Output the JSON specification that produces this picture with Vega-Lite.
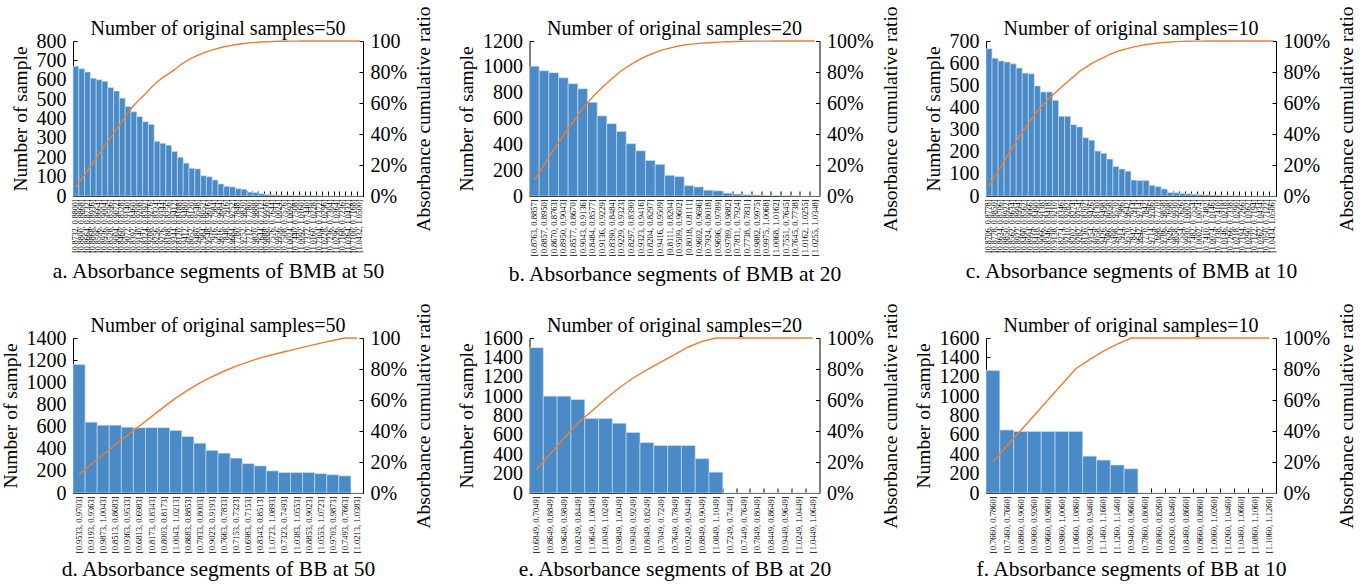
{
"$schema":"https://vega.github.io/schema/vega-lite/v6.json",
"background":"white",
"padding":{"left":0,"top":5,"right":2,"bottom":0},
"config":{
 "view":{"stroke":null},
 "font":"Liberation Serif",
 "axis":{"grid":false,"domainColor":"#000","tickColor":"#000","labelColor":"#000","titleColor":"#000","labelFont":"Liberation Serif","titleFont":"Liberation Serif","titleFontWeight":"normal","labelFontSize":20,"titleFontSize":19.5,"labelOverlap":false},
 "title":{"font":"Liberation Serif","fontSize":20,"fontWeight":"normal","color":"#000","offset":-33,"frame":"group"}
},
"datasets":{
"a":[
{"s":"[0.8732, 0.8800]","n":670,"c":5.5},{"s":"[0.8800, 0.8868]","n":657,"c":10.9},{"s":"[0.8664, 0.8732]","n":640,"c":16.3},{"s":"[0.8868, 0.8936]","n":608,"c":21.7},{"s":"[0.8596, 0.8664]","n":600,"c":27},{"s":"[0.8936, 0.9004]","n":592,"c":32.4},{"s":"[0.8528, 0.8596]","n":560,"c":37.8},{"s":"[0.9004, 0.9072]","n":542,"c":43.1},{"s":"[0.8460, 0.8528]","n":505,"c":48.5},{"s":"[0.9072, 0.9140]","n":462,"c":53.8},
{"s":"[0.8392, 0.8460]","n":435,"c":58.5},{"s":"[0.9140, 0.9208]","n":410,"c":62.5},{"s":"[0.8324, 0.8392]","n":383,"c":66},{"s":"[0.9208, 0.9276]","n":370,"c":70},{"s":"[0.8256, 0.8324]","n":282,"c":73.5},{"s":"[0.9276, 0.9344]","n":272,"c":76.5},{"s":"[0.8188, 0.8256]","n":262,"c":79},{"s":"[0.9344, 0.9412]","n":230,"c":81.5},{"s":"[0.8120, 0.8188]","n":200,"c":84.5},{"s":"[0.9412, 0.9480]","n":170,"c":87},
{"s":"[0.8052, 0.8120]","n":143,"c":89},{"s":"[0.9480, 0.9548]","n":140,"c":90.8},{"s":"[0.7984, 0.8052]","n":105,"c":92.3},{"s":"[0.9548, 0.9616]","n":100,"c":93.6},{"s":"[0.7916, 0.7984]","n":83,"c":94.8},{"s":"[0.9616, 0.9684]","n":62,"c":95.8},{"s":"[0.7848, 0.7916]","n":50,"c":96.6},{"s":"[0.9684, 0.9752]","n":47,"c":97.3},{"s":"[0.7780, 0.7848]","n":38,"c":97.9},{"s":"[0.9752, 0.9820]","n":35,"c":98.4},
{"s":"[0.7712, 0.7780]","n":20,"c":98.8},{"s":"[0.9820, 0.9888]","n":18,"c":99.1},{"s":"[0.7644, 0.7712]","n":12,"c":99.35},{"s":"[0.9888, 0.9956]","n":8,"c":99.55},{"s":"[0.7576, 0.7644]","n":6,"c":99.7},{"s":"[0.9956, 1.0024]","n":5,"c":99.8},{"s":"[0.7508, 0.7576]","n":4,"c":99.87},{"s":"[1.0024, 1.0092]","n":3,"c":99.92},{"s":"[0.7440, 0.7508]","n":2,"c":99.95},{"s":"[1.0092, 1.0160]","n":2,"c":99.97},
{"s":"[0.7372, 0.7440]","n":1,"c":99.98},{"s":"[1.0160, 1.0228]","n":1,"c":99.99},{"s":"[0.7304, 0.7372]","n":1,"c":100},{"s":"[1.0228, 1.0296]","n":0,"c":100},{"s":"[0.7236, 0.7304]","n":0,"c":100},{"s":"[1.0296, 1.0364]","n":0,"c":100},{"s":"[0.7168, 0.7236]","n":0,"c":100},{"s":"[1.0364, 1.0432]","n":0,"c":100},{"s":"[0.7100, 0.7168]","n":0,"c":100},{"s":"[1.0432, 1.0500]","n":0,"c":100}
],
"b":[
{"s":"[0.8763, 0.8857]","n":1005,"c":10.2},{"s":"[0.8857, 0.8950]","n":970,"c":20.1},{"s":"[0.8670, 0.8763]","n":955,"c":29.8},{"s":"[0.8950, 0.9043]","n":915,"c":39.1},{"s":"[0.8577, 0.8670]","n":870,"c":47.9},{"s":"[0.9043, 0.9136]","n":830,"c":56.4},{"s":"[0.8484, 0.8577]","n":725,"c":63.7},{"s":"[0.9136, 0.9229]","n":620,"c":70},{"s":"[0.8390, 0.8484]","n":560,"c":75.7},{"s":"[0.9229, 0.9323]","n":500,"c":80.8},
{"s":"[0.8297, 0.8390]","n":405,"c":84.9},{"s":"[0.9323, 0.9416]","n":350,"c":88.5},{"s":"[0.8204, 0.8297]","n":275,"c":91.3},{"s":"[0.9416, 0.9509]","n":245,"c":93.8},{"s":"[0.8111, 0.8204]","n":160,"c":95.4},{"s":"[0.9509, 0.9602]","n":150,"c":96.9},{"s":"[0.8018, 0.8111]","n":80,"c":97.8},{"s":"[0.9602, 0.9696]","n":70,"c":98.5},{"s":"[0.7924, 0.8018]","n":45,"c":98.9},{"s":"[0.9696, 0.9789]","n":40,"c":99.3},
{"s":"[0.9789, 0.9882]","n":22,"c":99.55},{"s":"[0.7831, 0.7924]","n":15,"c":99.7},{"s":"[0.7738, 0.7831]","n":10,"c":99.8},{"s":"[0.9882, 0.9975]","n":8,"c":99.9},{"s":"[0.9975, 1.0068]","n":5,"c":99.94},{"s":"[1.0068, 1.0162]","n":3,"c":99.97},{"s":"[0.7551, 0.7645]","n":2,"c":99.99},{"s":"[0.7645, 0.7738]","n":1,"c":100},{"s":"[1.0162, 1.0255]","n":0,"c":100},{"s":"[1.0255, 1.0348]","n":0,"c":100}
],
"c":[
{"s":"[0.8706, 0.8778]","n":665,"c":6.5},{"s":"[0.8778, 0.8850]","n":622,"c":12.8},{"s":"[0.8634, 0.8706]","n":610,"c":19.2},{"s":"[0.8850, 0.8922]","n":605,"c":25.5},{"s":"[0.8562, 0.8634]","n":597,"c":31.9},{"s":"[0.8922, 0.8994]","n":578,"c":38.3},{"s":"[0.8490, 0.8562]","n":555,"c":44},{"s":"[0.8994, 0.9066]","n":552,"c":49.5},{"s":"[0.8418, 0.8490]","n":497,"c":54.5},{"s":"[0.9066, 0.9138]","n":470,"c":59},
{"s":"[0.8346, 0.8418]","n":470,"c":63},{"s":"[0.9138, 0.9210]","n":432,"c":66.7},{"s":"[0.8274, 0.8346]","n":360,"c":70.3},{"s":"[0.9210, 0.9282]","n":360,"c":73.7},{"s":"[0.8202, 0.8274]","n":322,"c":77},{"s":"[0.9282, 0.9354]","n":312,"c":80.5},{"s":"[0.8130, 0.8202]","n":263,"c":83},{"s":"[0.9354, 0.9426]","n":252,"c":85.5},{"s":"[0.8058, 0.8130]","n":203,"c":87.6},{"s":"[0.9426, 0.9498]","n":193,"c":89.5},
{"s":"[0.7986, 0.8058]","n":167,"c":91.3},{"s":"[0.9498, 0.9570]","n":133,"c":93},{"s":"[0.7914, 0.7986]","n":122,"c":94.2},{"s":"[0.9570, 0.9642]","n":112,"c":95.2},{"s":"[0.7842, 0.7914]","n":72,"c":96.2},{"s":"[0.9642, 0.9714]","n":70,"c":97},{"s":"[0.7770, 0.7842]","n":70,"c":97.7},{"s":"[0.9714, 0.9786]","n":48,"c":98.2},{"s":"[0.7698, 0.7770]","n":42,"c":98.7},{"s":"[0.9786, 0.9858]","n":32,"c":99.1},
{"s":"[0.7626, 0.7698]","n":16,"c":99.4},{"s":"[0.9858, 0.9930]","n":15,"c":99.6},{"s":"[0.7554, 0.7626]","n":12,"c":99.75},{"s":"[0.9930, 1.0002]","n":10,"c":99.85},{"s":"[0.7482, 0.7554]","n":8,"c":99.9},{"s":"[1.0002, 1.0074]","n":6,"c":99.95},{"s":"[0.7410, 0.7482]","n":5,"c":99.97},{"s":"[1.0074, 1.0146]","n":4,"c":99.98},{"s":"[0.7338, 0.7410]","n":3,"c":99.99},{"s":"[1.0146, 1.0218]","n":2,"c":100},
{"s":"[0.7266, 0.7338]","n":1,"c":100},{"s":"[1.0218, 1.0290]","n":1,"c":100},{"s":"[0.7194, 0.7266]","n":0,"c":100},{"s":"[1.0290, 1.0362]","n":0,"c":100},{"s":"[0.7122, 0.7194]","n":0,"c":100},{"s":"[1.0362, 1.0434]","n":0,"c":100},{"s":"[0.7050, 0.7122]","n":0,"c":100},{"s":"[1.0434, 1.0506]","n":0,"c":100}
],
"d":[
{"s":"[0.9533, 0.9703]","n":1160,"c":11.9},{"s":"[0.9193, 0.9363]","n":640,"c":18.5},{"s":"[0.9873, 1.0043]","n":612,"c":24.8},{"s":"[0.8513, 0.8683]","n":612,"c":31.1},{"s":"[0.9363, 0.9533]","n":595,"c":37.2},{"s":"[0.6813, 0.6983]","n":590,"c":43.2},{"s":"[0.8173, 0.8343]","n":590,"c":49.3},{"s":"[0.8003, 0.8173]","n":590,"c":55.4},{"s":"[1.0043, 1.0213]","n":565,"c":61.2},{"s":"[0.8683, 0.8853]","n":510,"c":66.4},{"s":"[0.7833, 0.8003]","n":450,"c":71},{"s":"[0.9023, 0.9193]","n":385,"c":75},
{"s":"[0.7663, 0.7833]","n":360,"c":78.7},{"s":"[0.7153, 0.7323]","n":315,"c":81.9},{"s":"[0.6983, 0.7153]","n":265,"c":84.6},{"s":"[0.8343, 0.8513]","n":245,"c":87.2},{"s":"[1.0723, 1.0893]","n":200,"c":89.2},{"s":"[0.7323, 0.7493]","n":185,"c":91.1},{"s":"[1.0383, 1.0553]","n":185,"c":93},{"s":"[0.8853, 0.9023]","n":185,"c":94.9},{"s":"[1.0553, 1.0723]","n":175,"c":96.7},{"s":"[0.9703, 0.9873]","n":165,"c":98.4},{"s":"[0.7493, 0.7663]","n":155,"c":100},{"s":"[1.0213, 1.0383]","n":0,"c":100}
],
"e":[
{"s":"[0.6849, 0.7049]","n":1500,"c":15.1},{"s":"[0.8649, 0.8849]","n":1000,"c":25.2},{"s":"[0.9649, 0.9849]","n":1000,"c":35.3},{"s":"[0.8249, 0.8449]","n":965,"c":45.1},{"s":"[1.0649, 1.0849]","n":770,"c":52.8},{"s":"[1.0049, 1.0249]","n":770,"c":60.6},{"s":"[0.9849, 1.0049]","n":720,"c":67.9},{"s":"[0.9049, 0.9249]","n":625,"c":74.2},{"s":"[0.8049, 0.8249]","n":520,"c":79.4},{"s":"[0.7049, 0.7249]","n":490,"c":84.4},{"s":"[0.7649, 0.7849]","n":490,"c":89.3},
{"s":"[0.9249, 0.9449]","n":490,"c":94.2},{"s":"[0.8849, 0.9049]","n":355,"c":97.8},{"s":"[1.0849, 1.1049]","n":215,"c":100},{"s":"[0.7249, 0.7449]","n":0,"c":100},{"s":"[0.7449, 0.7649]","n":0,"c":100},{"s":"[0.7849, 0.8049]","n":0,"c":100},{"s":"[0.8449, 0.8649]","n":0,"c":100},{"s":"[0.9449, 0.9649]","n":0,"c":100},{"s":"[1.0249, 1.0449]","n":0,"c":100},{"s":"[1.0449, 1.0649]","n":0,"c":100}
],
"f":[
{"s":"[0.7660, 0.7860]","n":1265,"c":19.9},{"s":"[0.7460, 0.7660]","n":650,"c":30.2},{"s":"[0.8860, 0.9060]","n":635,"c":40.2},{"s":"[0.9060, 0.9260]","n":635,"c":50.2},{"s":"[0.9660, 0.9860]","n":635,"c":60.2},{"s":"[0.9860, 1.0060]","n":635,"c":70.2},{"s":"[1.0660, 1.0860]","n":635,"c":80.2},{"s":"[0.9260, 0.9460]","n":380,"c":86.1},{"s":"[1.1460, 1.1660]","n":340,"c":91.5},{"s":"[1.1260, 1.1460]","n":290,"c":96.1},{"s":"[0.9460, 0.9660]","n":250,"c":100},
{"s":"[0.7860, 0.8060]","n":0,"c":100},{"s":"[0.8060, 0.8260]","n":0,"c":100},{"s":"[0.8260, 0.8460]","n":0,"c":100},{"s":"[0.8460, 0.8660]","n":0,"c":100},{"s":"[0.8660, 0.8860]","n":0,"c":100},{"s":"[1.0060, 1.0260]","n":0,"c":100},{"s":"[1.0260, 1.0460]","n":0,"c":100},{"s":"[1.0460, 1.0660]","n":0,"c":100},{"s":"[1.0860, 1.1060]","n":0,"c":100},{"s":"[1.1060, 1.1260]","n":0,"c":100}
]
},
"columns":3,
"bounds":"flush",
"spacing":{"row":142,"column":166.5},
"concat":[
{"width":290,"height":155,"data":{"name":"a"},"title":"Number of original samples=50",
 "encoding":{"x":{"field":"s","type":"nominal","sort":null,"scale":{"paddingInner":0,"paddingOuter":0},"axis":{"title":"a. Absorbance segments of BMB at 50","labelAngle":270,"labelFontSize":8,"bandPosition":0,"tickSize":-5,"labelPadding":8,"titleFontSize":21.5,"titlePadding":8}}},
 "layer":[
  {"mark":{"type":"bar","color":"#4a8bc7","stroke":"#cfe0f0","strokeWidth":0.6},"encoding":{"y":{"field":"n","type":"quantitative","scale":{"domain":[0,800]},"axis":{"title":"Number of sample","format":"d","values":[0,100,200,300,400,500,600,700,800],"tickSize":-4,"labelPadding":11,"titlePadding":6}}}},
  {"mark":{"type":"line","color":"#ed7d31","strokeWidth":1.4},"encoding":{"y":{"field":"c","type":"quantitative","scale":{"domain":[0,100]},"axis":{"orient":"right","title":"Absorbance cumulative ratio","values":[0,20,40,60,80,100],"labelExpr":"datum.value == 100 ? '100' : datum.value + '%'","tickSize":-4,"labelPadding":11,"titleAngle":270,"titleBaseline":"top","titlePadding":8}}}}
 ],
 "resolve":{"scale":{"y":"independent"}}},
{"width":290,"height":155,"data":{"name":"b"},"title":"Number of original samples=20",
 "encoding":{"x":{"field":"s","type":"nominal","sort":null,"scale":{"paddingInner":0,"paddingOuter":0},"axis":{"title":"b. Absorbance segments of BMB at 20","labelAngle":270,"labelFontSize":8.5,"bandPosition":0,"tickSize":-5,"labelPadding":8,"titleFontSize":21.5,"titlePadding":8}}},
 "layer":[
  {"mark":{"type":"bar","color":"#4a8bc7","stroke":"#cfe0f0","strokeWidth":0.6},"encoding":{"y":{"field":"n","type":"quantitative","scale":{"domain":[0,1200]},"axis":{"title":"Number of sample","format":"d","values":[0,200,400,600,800,1000,1200],"tickSize":-4,"labelPadding":11,"titlePadding":6}}}},
  {"mark":{"type":"line","color":"#ed7d31","strokeWidth":1.4},"encoding":{"y":{"field":"c","type":"quantitative","scale":{"domain":[0,100]},"axis":{"orient":"right","title":"Absorbance cumulative ratio","values":[0,20,40,60,80,100],"labelExpr":"datum.value + '%'","tickSize":-4,"labelPadding":11,"titleAngle":270,"titleBaseline":"top","titlePadding":8}}}}
 ],
 "resolve":{"scale":{"y":"independent"}}},
{"width":290,"height":155,"data":{"name":"c"},"title":"Number of original samples=10",
 "encoding":{"x":{"field":"s","type":"nominal","sort":null,"scale":{"paddingInner":0,"paddingOuter":0},"axis":{"title":"c. Absorbance segments of BMB at 10","labelAngle":270,"labelFontSize":8,"bandPosition":0,"tickSize":-5,"labelPadding":8,"titleFontSize":21.5,"titlePadding":8}}},
 "layer":[
  {"mark":{"type":"bar","color":"#4a8bc7","stroke":"#cfe0f0","strokeWidth":0.6},"encoding":{"y":{"field":"n","type":"quantitative","scale":{"domain":[0,700]},"axis":{"title":"Number of sample","format":"d","values":[0,100,200,300,400,500,600,700],"tickSize":-4,"labelPadding":11,"titlePadding":6}}}},
  {"mark":{"type":"line","color":"#ed7d31","strokeWidth":1.4},"encoding":{"y":{"field":"c","type":"quantitative","scale":{"domain":[0,100]},"axis":{"orient":"right","title":"Absorbance cumulative ratio","values":[0,20,40,60,80,100],"labelExpr":"datum.value + '%'","tickSize":-4,"labelPadding":11,"titleAngle":270,"titleBaseline":"top","titlePadding":8}}}}
 ],
 "resolve":{"scale":{"y":"independent"}}},
{"width":290,"height":155,"data":{"name":"d"},"title":"Number of original samples=50",
 "encoding":{"x":{"field":"s","type":"nominal","sort":null,"scale":{"paddingInner":0,"paddingOuter":0},"axis":{"title":"d. Absorbance segments of BB at 50","labelAngle":270,"labelFontSize":8.5,"bandPosition":0,"tickSize":-5,"labelPadding":8,"titleFontSize":21.5,"titlePadding":6}}},
 "layer":[
  {"mark":{"type":"bar","color":"#4a8bc7","stroke":"#cfe0f0","strokeWidth":0.6},"encoding":{"y":{"field":"n","type":"quantitative","scale":{"domain":[0,1400]},"axis":{"title":"Number of sample","format":"d","values":[0,200,400,600,800,1000,1200,1400],"tickSize":-4,"labelPadding":11,"titlePadding":6}}}},
  {"mark":{"type":"line","color":"#ed7d31","strokeWidth":1.4},"encoding":{"y":{"field":"c","type":"quantitative","scale":{"domain":[0,100]},"axis":{"orient":"right","title":"Absorbance cumulative ratio","values":[0,20,40,60,80,100],"labelExpr":"datum.value == 100 ? '100' : datum.value + '%'","tickSize":-4,"labelPadding":11,"titleAngle":270,"titleBaseline":"top","titlePadding":8}}}}
 ],
 "resolve":{"scale":{"y":"independent"}}},
{"width":290,"height":155,"data":{"name":"e"},"title":"Number of original samples=20",
 "encoding":{"x":{"field":"s","type":"nominal","sort":null,"scale":{"paddingInner":0,"paddingOuter":0},"axis":{"title":"e. Absorbance segments of BB at 20","labelAngle":270,"labelFontSize":8.5,"bandPosition":0,"tickSize":-5,"labelPadding":8,"titleFontSize":21.5,"titlePadding":6}}},
 "layer":[
  {"mark":{"type":"bar","color":"#4a8bc7","stroke":"#cfe0f0","strokeWidth":0.6},"encoding":{"y":{"field":"n","type":"quantitative","scale":{"domain":[0,1600]},"axis":{"title":"Number of sample","format":"d","values":[0,200,400,600,800,1000,1200,1400,1600],"tickSize":-4,"labelPadding":11,"titlePadding":6}}}},
  {"mark":{"type":"line","color":"#ed7d31","strokeWidth":1.4},"encoding":{"y":{"field":"c","type":"quantitative","scale":{"domain":[0,100]},"axis":{"orient":"right","title":"Absorbance cumulative ratio","values":[0,20,40,60,80,100],"labelExpr":"datum.value + '%'","tickSize":-4,"labelPadding":11,"titleAngle":270,"titleBaseline":"top","titlePadding":8}}}}
 ],
 "resolve":{"scale":{"y":"independent"}}},
{"width":290,"height":155,"data":{"name":"f"},"title":"Number of original samples=10",
 "encoding":{"x":{"field":"s","type":"nominal","sort":null,"scale":{"paddingInner":0,"paddingOuter":0},"axis":{"title":"f. Absorbance segments of BB at 10","labelAngle":270,"labelFontSize":8.5,"bandPosition":0,"tickSize":-5,"labelPadding":8,"titleFontSize":21.5,"titlePadding":6}}},
 "layer":[
  {"mark":{"type":"bar","color":"#4a8bc7","stroke":"#cfe0f0","strokeWidth":0.6},"encoding":{"y":{"field":"n","type":"quantitative","scale":{"domain":[0,1600]},"axis":{"title":"Number of sample","format":"d","values":[0,200,400,600,800,1000,1200,1400,1600],"tickSize":-4,"labelPadding":11,"titlePadding":6}}}},
  {"mark":{"type":"line","color":"#ed7d31","strokeWidth":1.4},"encoding":{"y":{"field":"c","type":"quantitative","scale":{"domain":[0,100]},"axis":{"orient":"right","title":"Absorbance cumulative ratio","values":[0,20,40,60,80,100],"labelExpr":"datum.value + '%'","tickSize":-4,"labelPadding":11,"titleAngle":270,"titleBaseline":"top","titlePadding":8}}}}
 ],
 "resolve":{"scale":{"y":"independent"}}}
]
}
